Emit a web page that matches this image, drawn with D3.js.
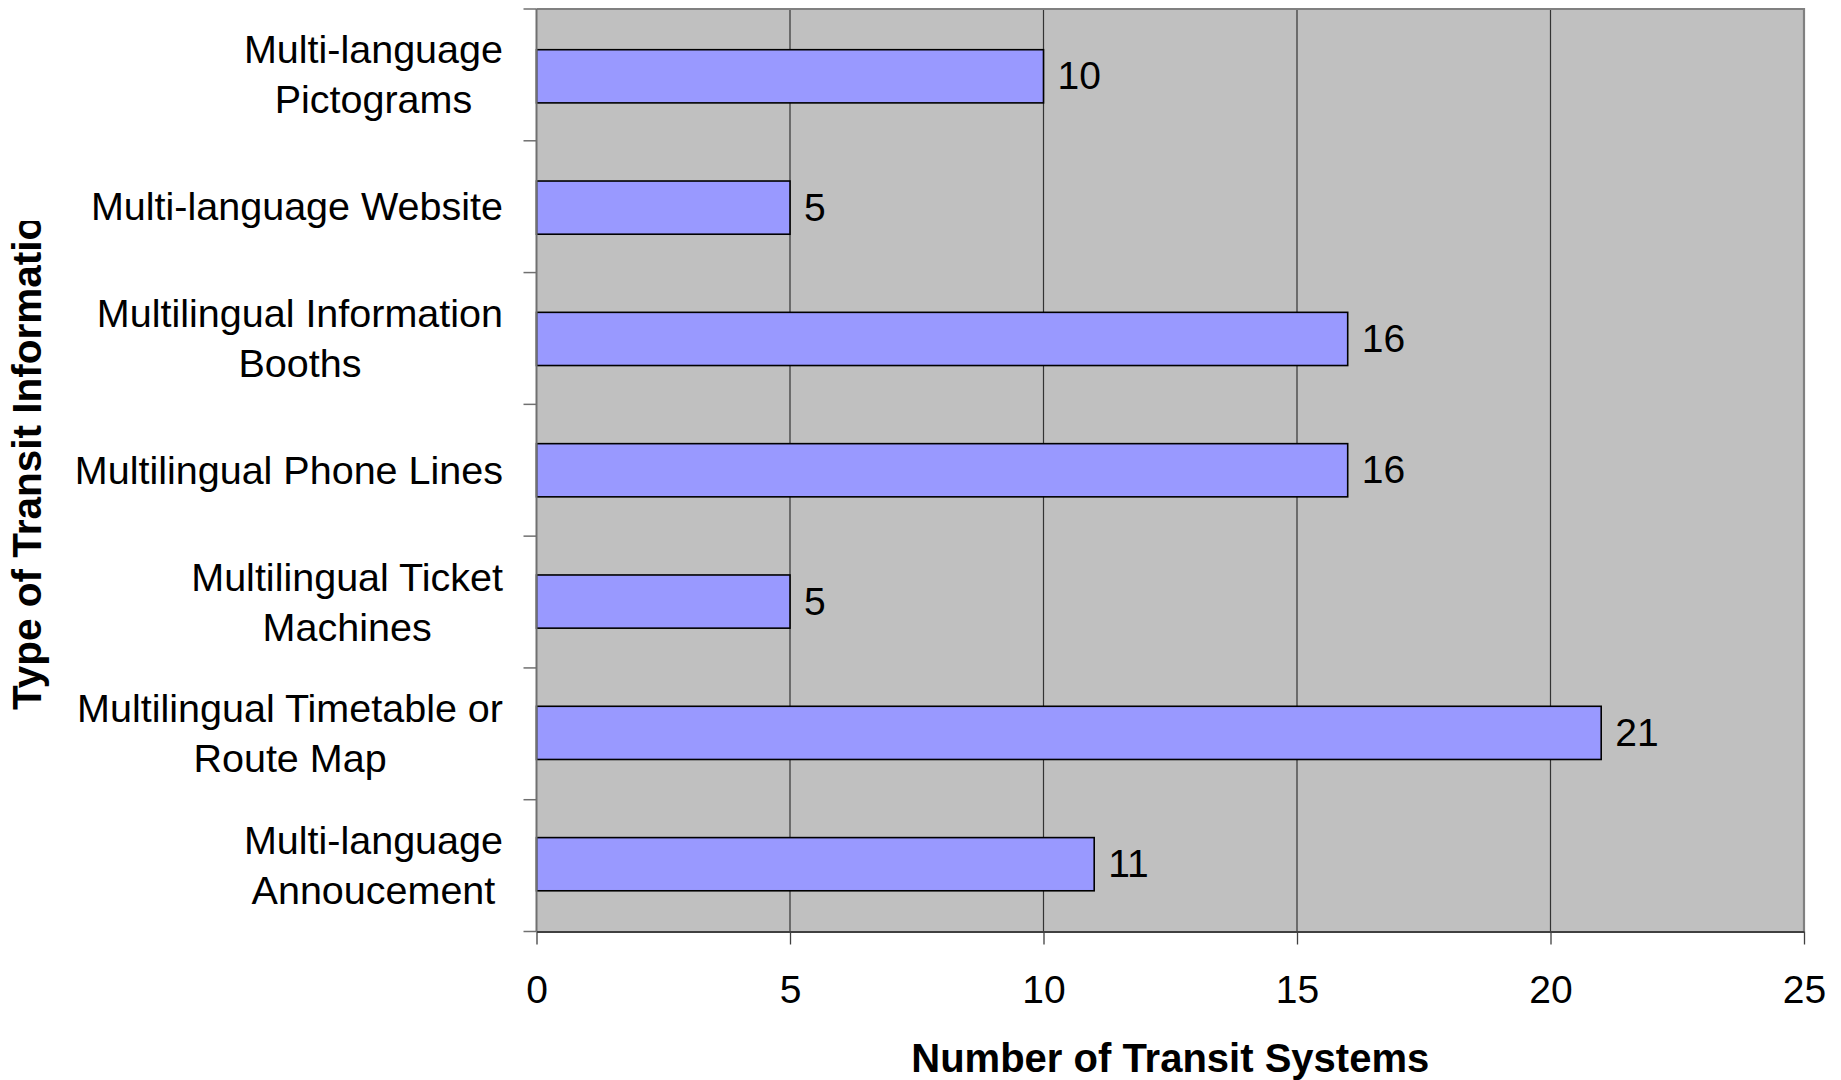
<!DOCTYPE html>
<html>
<head>
<meta charset="utf-8">
<script src="https://cdn.jsdelivr.net/npm/d3@7"></script>
<style>
  html, body { margin: 0; padding: 0; background: #ffffff; }
  svg { display: block; }
  text { font-family: "Liberation Sans", Arial, sans-serif; fill: #000; }
</style>
</head>
<body>
<svg id="chart" width="1841" height="1080"></svg>
<script>
// ---- data ----
const categories = [
  "Multi-language\nPictograms",
  "Multi-language Website",
  "Multilingual Information\nBooths",
  "Multilingual Phone Lines",
  "Multilingual Ticket\nMachines",
  "Multilingual Timetable or\nRoute Map",
  "Multi-language\nAnnoucement"
];
const values = [10, 5, 16, 16, 5, 21, 11];
const xTicks = [0, 5, 10, 15, 20, 25];
const xTitle = "Number of Transit Systems";
const yTitle = "Type of Transit Information";

// ---- layout ----
const plot = { left: 536.5, right: 1804, top: 9, bottom: 931.5 };
const svg = d3.select("#chart");

const x = d3.scaleLinear().domain([0, 25]).range([plot.left, plot.right]);
const y = d3.scaleBand().domain(d3.range(categories.length))
  .range([plot.top, plot.bottom]).paddingInner(0.595).paddingOuter(0.31);
const step = (plot.bottom - plot.top) / categories.length;

// background
svg.append("rect").attr("x", plot.left).attr("y", plot.top)
  .attr("width", plot.right - plot.left).attr("height", plot.bottom - plot.top)
  .attr("fill", "#c0c0c0");

// gridlines
svg.append("g").selectAll("line").data(xTicks.slice(1, -1)).join("line")
  .attr("x1", d => x(d)).attr("x2", d => x(d))
  .attr("y1", plot.top).attr("y2", plot.bottom)
  .attr("stroke", "#333").attr("stroke-width", 1.2);

// border top/right
svg.append("path")
  .attr("d", `M${plot.left},${plot.top}H${plot.right}V${plot.bottom}`)
  .attr("fill", "none").attr("stroke", "#808080").attr("stroke-width", 2.2);

// bars
svg.append("g").selectAll("rect").data(values).join("rect")
  .attr("x", x(0)).attr("y", (d, i) => y(i))
  .attr("width", d => x(d) - x(0)).attr("height", y.bandwidth())
  .attr("fill", "#9999ff").attr("stroke", "#000").attr("stroke-width", 1.6);

// value labels
svg.append("g").selectAll("text").data(values).join("text")
  .attr("x", d => x(d) + 14).attr("y", (d, i) => y(i) + y.bandwidth() / 2 + 13)
  .attr("font-size", 39).text(d => d);

// y axis line + ticks at category boundaries
svg.append("line").attr("x1", plot.left).attr("x2", plot.left)
  .attr("y1", plot.top).attr("y2", plot.bottom)
  .attr("stroke", "#707070").attr("stroke-width", 2);
svg.append("g").selectAll("line").data(d3.range(categories.length + 1)).join("line")
  .attr("x1", plot.left - 13).attr("x2", plot.left)
  .attr("y1", i => plot.top + i * step).attr("y2", i => plot.top + i * step)
  .attr("stroke", "#707070").attr("stroke-width", 1.5);

// x axis
const xAxis = svg.append("g").attr("transform", `translate(0,${plot.bottom})`)
  .call(d3.axisBottom(x).tickValues(xTicks).tickSize(13).tickSizeOuter(0));
xAxis.select(".domain").attr("stroke", "#404040").attr("stroke-width", 2.2);
xAxis.selectAll(".tick line").attr("stroke", "#404040").attr("stroke-width", 1.3);
xAxis.selectAll(".tick text").attr("dy", null).attr("y", 71.5)
  .attr("font-size", 39).attr("font-family", "Liberation Sans, Arial, sans-serif")
  .attr("fill", "#000");

// category labels: block right-aligned, lines centred within block
const labelRight = 503;
const lg = svg.append("g");
categories.forEach((c, i) => {
  const lines = c.split("\n");
  const cy = plot.top + (i + 0.5) * step;
  const t = lg.append("g");
  const texts = lines.map((ln, j) => t.append("text")
    .attr("font-size", 39.5).attr("text-anchor", "middle")
    .attr("y", cy + 13.5 + (j - (lines.length - 1) / 2) * 50)
    .text(ln));
  const maxW = d3.max(texts, s => s.node().getComputedTextLength());
  texts.forEach(s => s.attr("x", labelRight - maxW / 2));
});

// x title
svg.append("text").attr("x", (plot.left + plot.right) / 2).attr("y", 1072)
  .attr("text-anchor", "middle").attr("font-size", 40).attr("font-weight", "bold")
  .text(xTitle);

// y title (clipped at top as in the original)
svg.append("clipPath").attr("id", "yclip").append("rect")
  .attr("x", 0).attr("y", 221).attr("width", 80).attr("height", 600);
svg.append("g").attr("clip-path", "url(#yclip)")
  .append("text").attr("transform", "translate(41,710) rotate(-90)")
  .attr("font-size", 40.5).attr("font-weight", "bold")
  .text(yTitle);
</script>
</body>
</html>
